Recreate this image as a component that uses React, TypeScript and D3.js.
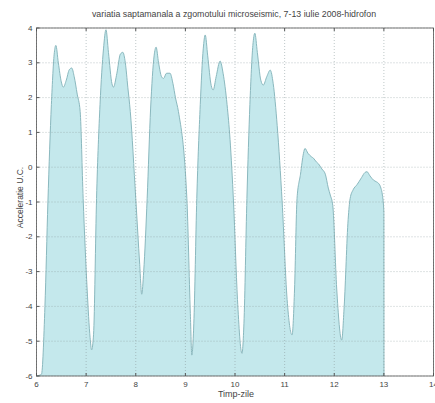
import * as d3 from 'd3'

const width = 435
const height = 403

const margin = { top: 28, right: 1.5, bottom: 27, left: 36.5 }

const title = 'variatia saptamanala a zgomotului microseismic, 7-13 iulie 2008-hidrofon'
const xLabel = 'Timp-zile'
const yLabel = 'Acceleratie U.C.'

const xTicks = [6, 7, 8, 9, 10, 11, 12, 13, 14]
const yTicks = [-6, -5, -4, -3, -2, -1, 0, 1, 2, 3, 4]

// days (x) and acceleration (y)
const days = [
  6.0, 6.1, 6.17, 6.23, 6.3, 6.36, 6.39, 6.44, 6.5, 6.54, 6.6, 6.66, 6.71, 6.76, 6.82, 6.88,
  6.94, 7.02, 7.08, 7.11, 7.15, 7.21, 7.28, 7.35, 7.4, 7.45, 7.52, 7.55, 7.62, 7.69, 7.74,
  7.79, 7.84, 7.89, 8.0, 8.08, 8.12, 8.16, 8.23, 8.3, 8.37, 8.41, 8.46, 8.52, 8.56, 8.62,
  8.69, 8.75, 8.8, 8.86, 9.03, 9.1, 9.13, 9.17, 9.23, 9.3, 9.36, 9.4, 9.45, 9.52, 9.56,
  9.62, 9.7, 9.76, 9.84, 9.9, 9.97, 10.05, 10.14, 10.18, 10.24, 10.3, 10.36, 10.4, 10.45,
  10.52, 10.57, 10.64, 10.71, 10.77, 10.85, 10.95, 11.05, 11.15, 11.2, 11.25, 11.32, 11.38,
  11.41, 11.47, 11.54, 11.58, 11.64, 11.68, 11.75, 11.82, 11.88, 11.92, 11.97, 12.05, 12.15,
  12.2, 12.28, 12.32, 12.38, 12.46, 12.55, 12.62, 12.66, 12.72, 12.79, 12.85, 12.89, 12.94,
  12.97, 13.0, 13.002
]
const accel = [
  -6, -5.95, -4.0, -1.0, 1.8, 3.3, 3.5, 3.0, 2.45, 2.3, 2.5, 2.8, 2.85, 2.6, 2.1, 1.6,
  -0.9, -3.5, -4.9, -5.25, -4.8, -0.9, 1.8, 3.4, 3.95, 3.3, 2.4, 2.3, 2.7, 3.25, 3.3,
  3.0, 2.3, 1.6, -0.9, -2.8, -3.65, -3.0, -0.9, 1.7, 3.2, 3.45, 3.0, 2.6, 2.55, 2.7,
  2.7, 2.4, 2.0, 1.6, -0.9, -4.2, -5.4, -4.5, -0.9, 1.8, 3.4, 3.8, 3.2, 2.35, 2.22,
  2.6, 3.05, 2.7, 1.8, 0.8, -1.0, -3.8, -5.35, -4.5, -0.9, 1.8, 3.5, 3.85, 3.3,
  2.5, 2.36, 2.6, 2.79, 2.4, 1.2, -1.0, -3.8, -4.82, -3.5, -0.9, -0.2, 0.4,
  0.54, 0.4, 0.3, 0.26, 0.15, 0.1, -0.05, -0.2, -0.6, -0.8, -1.1, -3.5, -4.97,
  -4.0, -1.5, -0.9, -0.65, -0.5, -0.3, -0.15, -0.13, -0.25, -0.37, -0.42, -0.46, -0.6,
  -0.8, -1.3, -6
]

function App() {
  const innerWidth = width - margin.left - margin.right
  const innerHeight = height - margin.top - margin.bottom

  const xScale = d3.scaleLinear().domain([6, 14]).range([0, innerWidth])
  const yScale = d3.scaleLinear().domain([-6, 4]).range([innerHeight, 0])

  const points = days.map((d, i) => [d, accel[i]] as [number, number])

  const area = d3.area<[number, number]>()
    .x(d => xScale(d[0]))
    .y0(yScale(-6))
    .y1(d => yScale(d[1]))
    .curve(d3.curveMonotoneX)

  const line = d3.line<[number, number]>()
    .x(d => xScale(d[0]))
    .y(d => yScale(d[1]))
    .curve(d3.curveMonotoneX)

  const font = 'Arial, "Liberation Sans", sans-serif'

  return (
    <div style={{ position: 'absolute', left: 0, top: 0 }}>
      <svg width={width} height={height} style={{ display: 'block', background: '#fff' }} fontFamily={font}>
        <text x={234} y={17} textAnchor="middle" fontSize={8.8} fill="#444">{title}</text>
        <g transform={`translate(${margin.left}, ${margin.top})`}>
          <path d={area(points) ?? ''} fill="#c4e8ec" />
          <path d={line(points) ?? ''} fill="none" stroke="#8ab8be" strokeWidth={1} />
          {xTicks.map(t => (
            <g key={'x' + t} transform={`translate(${xScale(t)},0)`}>
              <line y2={innerHeight} stroke="#8a9a9c" strokeOpacity={0.55} strokeDasharray="1,2" />
              <line y1={innerHeight} y2={innerHeight - 3} stroke="#555" />
              <line y2={3} stroke="#555" />
              <text y={innerHeight + 11} textAnchor="middle" fontSize={8} fill="#444">{t}</text>
            </g>
          ))}
          {yTicks.map(t => (
            <g key={'y' + t} transform={`translate(0,${yScale(t)})`}>
              <line x2={innerWidth} stroke="#8a9a9c" strokeOpacity={0.55} strokeDasharray="1,2" />
              <line x2={3} stroke="#555" />
              <text x={-4} dy="0.32em" textAnchor="end" fontSize={8} fill="#444">{t}</text>
            </g>
          ))}
          <rect width={innerWidth} height={innerHeight} fill="none" stroke="#555" strokeWidth={0.8} />
          <text x={199.5} y={innerHeight + 21} textAnchor="middle" fontSize={9} fill="#444">{xLabel}</text>
          <text
            transform={`translate(-14, 169.5) rotate(-90)`}
            textAnchor="middle"
            fontSize={8.5}
            fill="#444"
          >{yLabel}</text>
        </g>
      </svg>
    </div>
  )
}

export default App
